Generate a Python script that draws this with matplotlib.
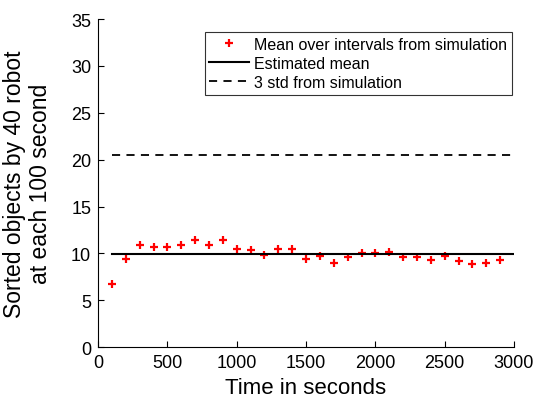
import matplotlib
matplotlib.use("Agg")
import matplotlib.pyplot as plt

plt.rcParams['font.family'] = ['Liberation Sans', 'DejaVu Sans']

# mean sorted objects per 100 s interval
times = [100, 200, 300, 400, 500, 600, 700, 800, 900, 1000,
         1100, 1200, 1300, 1400, 1500, 1600, 1700, 1800, 1900, 2000,
         2100, 2200, 2300, 2400, 2500, 2600, 2700, 2800, 2900]
sim_mean = [6.75, 9.45, 10.9, 10.7, 10.7, 10.9, 11.4, 10.85, 11.4, 10.45,
            10.4, 9.85, 10.45, 10.45, 9.35, 9.75, 8.95, 9.65, 10.0, 10.0,
            10.2, 9.6, 9.6, 9.3, 9.75, 9.15, 8.85, 8.95, 9.25]
est_mean = 9.93
std3 = 20.5
x_range = [100, 3000]

fig = plt.figure(figsize=(5.36, 4.10), dpi=100)
ax = fig.add_axes([0.183, 0.151, 0.776, 0.8])

ax.plot(times, sim_mean, '+', color='red', markersize=6, mew=1.6,
        label='Mean over intervals from simulation')
ax.plot(x_range, [est_mean, est_mean], '-', color='black', lw=1.5,
        label='Estimated mean')
ax.plot(x_range, [std3, std3], color='black', lw=1.3, dashes=(4.5, 3.5),
        label='3 std from simulation')

ax.set_xlim(0, 3000)
ax.set_ylim(0, 35)
ax.set_xticks(range(0, 3001, 500))
ax.set_yticks(range(0, 36, 5))
ax.spines['top'].set_visible(False)
ax.spines['right'].set_visible(False)
ax.tick_params(direction='in', labelsize=13, length=4, pad=5)
ax.set_xlabel('Time in seconds', fontsize=16)
ax.set_ylabel('Sorted objects by 40 robot\nat each 100 second', fontsize=16.5,
              linespacing=1.15, labelpad=14)

leg = ax.legend(loc='upper right', bbox_to_anchor=(512 / 536, 1 - 33 / 410),
                bbox_transform=fig.transFigure, fontsize=11.5, frameon=True,
                fancybox=False, edgecolor='black', handlelength=2.5,
                handletextpad=0.3, borderpad=0.3, labelspacing=0.25,
                borderaxespad=0)
leg.get_frame().set_linewidth(0.8)

fig.savefig('out.png', dpi=100)
